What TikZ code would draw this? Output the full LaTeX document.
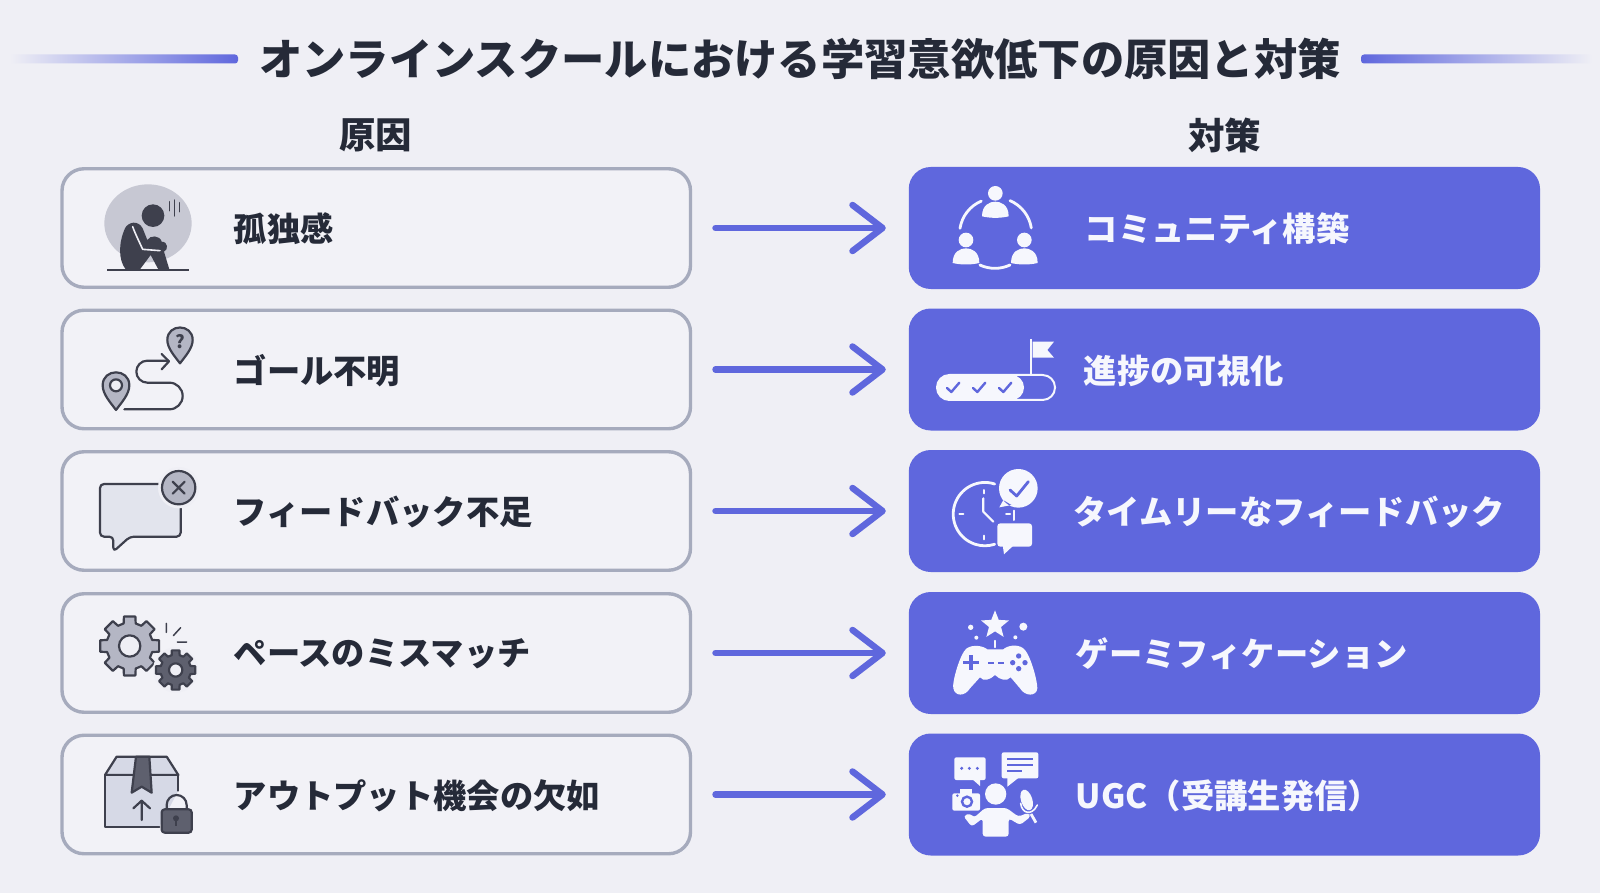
\documentclass[tikz,border=0pt]{standalone}
\usepackage{fontspec}
\setmainfont{Noto Sans CJK JP}
\usetikzlibrary{arrows.meta, positioning}
\definecolor{pagebg}{HTML}{EFEFF5}
\definecolor{accent}{HTML}{5F67DD}
\definecolor{inkdark}{HTML}{252A38}
\definecolor{framegray}{HTML}{A6ABBD}
\definecolor{icondark}{HTML}{3E404D}
\definecolor{iconmid}{HTML}{B4B6C4}
\definecolor{icondeep}{HTML}{5E606E}
\definecolor{iconlight}{HTML}{D6D9E6}
\definecolor{iconwhite}{HTML}{F6F7FD}
\tikzset{
	causebox/.style={draw=framegray, line width=3.4pt, fill=pagebg!80!white, rounded corners=22pt, minimum width=628.5pt, minimum height=118.5pt, inner sep=0pt, outer sep=0pt},
	fixbox/.style={fill=accent, rounded corners=22pt, minimum width=631.3pt, minimum height=122pt, inner sep=0pt, outer sep=0pt},
	causetext/.style={font=\fontsize{33.3pt}{36pt}\selectfont\bfseries, text=inkdark, inner sep=0pt},
	fixtext/.style={font=\fontsize{33.3pt}{36pt}\selectfont\bfseries, text=iconwhite, inner sep=0pt},
	headtext/.style={font=\fontsize{36.5pt}{40pt}\selectfont\bfseries, text=inkdark, inner sep=0pt},
	flowarrow/.style={draw=accent, line width=6.5pt, line cap=round, shorten <=25pt, shorten >=23pt, -{Straight Barb[length=30pt,width=46pt,line width=6.5pt,round]}},
	iconline/.style={draw=icondark, line width=2.2pt, line join=round, line cap=round},
	whiteline/.style={draw=iconwhite, line width=2.8pt, line join=round, line cap=round},
	accline/.style={draw=accent, line width=2.4pt, line join=round, line cap=round},
	icon/.style={x=.33333pt, y=-.33333pt}
}
\newcommand{\gearicon}[5]{
	\begin{scope}[shift={(#1,#2)}]
		\draw[iconline, fill=#5] (11:#3) \foreach \a in {45,90,...,360}{ -- (\a-45+15:#4) -- (\a-15:#4) -- (\a-11:#3) -- (\a+11:#3)} -- cycle;
	\end{scope}
}
\newcommand{\userblob}[2]{
	\fill[iconwhite] (#1-40,#2+24) .. controls (#1-40,#2-12) and (#1-15,#2-20) .. (#1,#2-20) .. controls (#1+15,#2-20) and (#1+40,#2-12) .. (#1+40,#2+24) .. controls (#1+15,#2+30) and (#1-15,#2+30) .. (#1-40,#2+24) -- cycle;
}
\begin{document}
\begin{tikzpicture}[x=1pt, y=-1pt]
	\useasboundingbox (0,0) rectangle (1600,893);
	\fill[pagebg] (0,0) rectangle (1600,893);
	% title row
	\node[font=\fontsize{43.3pt}{48pt}\selectfont\bfseries, text=inkdark, inner sep=0pt] (title) at (800,59) {オンラインスクールにおける学習意欲低下の原因と対策};
	\shade[left color=pagebg, right color=accent, rounded corners=3pt] (10,54.5) rectangle (238,63.5);
	\shade[left color=accent, right color=pagebg, rounded corners=3pt] (1361,54.5) rectangle (1592,63.5);
	\node[headtext] (causehead) at (375.5,135) {原因};
	\node[headtext] (fixhead) at (1224.5,135) {対策};
	% rows
	\foreach \y/\id/\name in {
		228/c1/孤独感,
		369.5/c2/ゴール不明,
		511/c3/フィードバック不足,
		653/c4/ペースのミスマッチ,
		794.5/c5/アウトプット機会の欠如
	}{
		\node[causebox] (\id) at (376.25,\y) {};
		\node[causetext, right=171.5pt of \id.west, yshift=-1pt] (\id text) {\name};
	}
	\foreach \y/\id/\off/\name in {
		228/s1/176/コミュニティ構築,
		369.5/s2/175/進捗の可視化,
		511/s3/164.5/タイムリーなフィードバック,
		653/s4/167/ゲーミフィケーション,
		794.5/s5/167/UGC（受講生発信）
	}{
		\node[fixbox] (\id) at (1224.4,\y) {};
		\node[fixtext, right=\off pt of \id.west, yshift=-1pt] (\id text) {\name};
	}
	\foreach \n in {1,...,5}
		{\draw[flowarrow] (c\n.east) -- (s\n.west);}
	% cause icons, top two
	\begin{scope}[shift={(60,160)}, icon]
		\fill[iconmid!75!white] (264,190) ellipse [x radius=131, y radius=117];
		\fill[icondark] (279,167) circle [radius=34];
		\fill[icondark] (197,328) .. controls (175,300) and (175,250) .. (195,205) .. controls (205,185) and (235,180) .. (248,205) -- (262,240) .. controls (270,225) and (300,225) .. (305,245) .. controls (325,245) and (325,270) .. (312,275) -- (328,328) -- (295,328) -- (272,285) -- (240,328) -- cycle;
		\draw[pagebg, line width=1.6pt, line cap=round, line join=round] (218,200) .. controls (225,220) and (240,250) .. (248,268) -- (300,272);
		\draw[icondark, line width=1.4pt, line cap=round] (329,125) -- (329,152) (344,120) -- (344,168) (358,128) -- (358,155);
		\draw[iconline, line width=2.2pt, line cap=butt] (141,330) -- (387,330);
		% route with two pins
		\draw[iconline, fill=iconmid] (360,610) .. controls (345,590) and (322,565) .. (322,540) .. controls (322,490) and (398,490) .. (398,540) .. controls (398,565) and (375,590) .. (360,610) -- cycle;
		\node[font=\fontsize{18pt}{20pt}\selectfont\bfseries, text=icondark, inner sep=0pt] (pinmark) at (360,546) {?};
		\draw[iconline, fill=iconmid] (168,750) .. controls (152,728) and (128,703) .. (128,676) .. controls (128,624) and (208,624) .. (208,676) .. controls (208,703) and (184,728) .. (168,750) -- cycle;
		\draw[iconline, fill=pagebg] (168,676) circle [radius=18];
		\draw[iconline] (193,748) -- (328,748) arc [start angle=90, end angle=-90, radius=40] -- (262,668) arc [start angle=90, end angle=270, radius=33] -- (325,602);
		\draw[iconline] (305,582) -- (327,604) -- (305,628);
	\end{scope}
	% cause icons, lower three
	\begin{scope}[shift={(60,440)}, icon]
		\draw[iconline, fill=iconlight!70!white, rounded corners=4pt] (160,335) -- (160,290) -- (120,290) -- (120,132) -- (362,132) -- (362,290) -- (210,290) -- cycle;
		\fill[pagebg] (356,143) circle [radius=62];
		\draw[iconline, fill=iconmid] (356,143) circle [radius=50];
		\draw[iconline] (338,125) -- (374,161) (374,125) -- (338,161);
		% gears
		\gearicon{209}{618}{90}{70}{iconmid}
		\draw[iconline, fill=pagebg] (209,618) circle [radius=32];
		\fill[pagebg] (347,690) circle [radius=68];
		\gearicon{347}{690}{60}{46}{icondeep}
		\draw[iconline, fill=pagebg] (347,690) circle [radius=20];
		\draw[iconline, line width=1.5pt] (319,550) -- (319,577) (362,563) -- (340,587) (352,606) -- (380,606);
		% box and lock
		\draw[iconline, fill=iconlight] (135,1005) -- (170,950) -- (320,950) -- (355,1005) -- cycle;
		\draw[iconline, fill=iconlight] (298,1160) -- (135,1160) -- (135,1005) -- (355,1005) -- (355,1052);
		\draw[iconline, fill=icondeep] (228,950) -- (268,950) -- (275,1058) -- (245,1040) -- (215,1058) -- cycle;
		\draw[iconline] (245,1140) -- (245,1082) (220,1105) -- (245,1082) -- (270,1105);
		\draw[iconline] (320,1108) -- (320,1095) arc [start angle=180, end angle=360, radius=30] -- (380,1108);
		\draw[iconline, fill=icondeep, rounded corners=3pt] (305,1108) rectangle (395,1178);
		\fill[icondark] (348,1135) circle [radius=9];
		\fill[icondark] (344,1135) -- (352,1135) -- (352,1158) -- (344,1158) -- cycle;
	\end{scope}
	% fix icons, top two
	\begin{scope}[shift={(900,160)}, icon]
		\fill[iconwhite] (286,100) circle [radius=22] (198,240) circle [radius=22] (373,240) circle [radius=22];
		\userblob{286}{145}
		\userblob{198}{285}
		\userblob{373}{285}
		\draw[whiteline] (180,205) arc [start angle=189, end angle=247, radius=107];
		\draw[whiteline] (330,122) arc [start angle=-67, end angle=-9, radius=107];
		\draw[whiteline] (330,315) arc [start angle=65, end angle=115, radius=107];
		% progress bar
		\draw[iconwhite, line width=2pt, rounded corners=12.4pt] (111,645) rectangle (465,720);
		\fill[iconwhite, rounded corners=12.4pt] (111,645) rectangle (372,720);
		\foreach \x in {160,238,316}
			{\draw[accline] (\x-19,684) -- (\x-6,696) -- (\x+18,668);}
		\draw[iconwhite, line width=2pt] (393,537) -- (393,645);
		\fill[iconwhite] (398,545) -- (462,545) -- (442,570) -- (462,593) -- (398,593) -- cycle;
	\end{scope}
	% fix icons, lower three
	\begin{scope}[shift={(900,440)}, icon]
		\draw[whiteline] (284,132) arc [start angle=288, end angle=72, radius=95];
		\draw[whiteline, line width=2pt] (253,150) -- (253,160) (178,222) -- (190,222) (253,287) -- (253,298) (318,222) -- (330,222) (343,212) -- (343,240);
		\draw[whiteline, line width=2.2pt] (250,175) -- (250,215) -- (280,245);
		\fill[iconwhite] (355,145) circle [radius=58] (310,180) -- (298,202) -- (335,195) -- cycle;
		\draw[accline, line width=2.8pt] (330,150) -- (350,168) -- (385,125);
		\fill[iconwhite, rounded corners=3pt] (292,250) rectangle (396,320);
		\fill[iconwhite] (308,315) -- (312,343) -- (342,315) -- cycle;
		% controller
		\begin{scope}[shift={(285,555)}]
			\fill[iconwhite] (-90:44) \foreach \a in {-90,-18,54,126,198}{ -- (\a:44) -- (\a+36:19)} -- cycle;
		\end{scope}
		\fill[iconwhite] (212,562) circle [radius=8] (370,560) circle [radius=12] (229,593) circle [radius=6] (346,592) circle [radius=6];
		\draw[whiteline, line width=1.4pt] (285,602) -- (285,622);
		\fill[iconwhite] (200,625) .. controls (180,640) and (155,730) .. (160,745) .. controls (165,770) and (195,770) .. (210,745) -- (240,712) .. controls (250,725) and (270,720) .. (285,705) .. controls (300,720) and (320,725) .. (332,712) -- (360,745) .. controls (375,770) and (410,770) .. (412,745) .. controls (412,720) and (390,640) .. (370,625) .. controls (350,610) and (320,618) .. (310,628) -- (262,628) .. controls (250,618) and (220,612) .. (200,625) -- cycle;
		\draw[accline, line width=3.4pt, line cap=butt] (190,668) -- (236,668) (213,645) -- (213,691);
		\draw[accline, line width=2pt, line cap=butt, dash pattern=on 6pt off 4pt] (265,670) -- (320,670);
		\fill[accent] (356,648) circle [radius=8] (375,668) circle [radius=8] (338,668) circle [radius=8] (356,686) circle [radius=8];
		% speech and camera
		\fill[iconwhite, rounded corners=2pt] (163,952) rectangle (257,1020);
		\fill[iconwhite] (215,1016) -- (240,1038) -- (240,1016) -- cycle;
		\fill[accent] (185,985) circle [radius=5] (208,985) circle [radius=5] (232,985) circle [radius=5];
		\fill[iconwhite, rounded corners=2pt] (305,937) rectangle (415,1015);
		\fill[iconwhite] (322,1010) -- (322,1040) -- (360,1010) -- cycle;
		\draw[accline, line width=1.8pt, line cap=butt] (322,958) -- (398,958) (322,975) -- (398,975) (322,994) -- (367,994);
		\fill[iconwhite, rounded corners=2pt] (157,1060) rectangle (240,1112);
		\fill[iconwhite] (180,1048) rectangle (215,1062);
		\fill[accent] (172,1067) circle [radius=4];
		\draw[accent, line width=2.4pt] (201,1085) circle [radius=15];
		\fill[iconwhite] (287,1062) circle [radius=32];
		\fill[iconwhite, rounded corners=3pt] (190,1128) -- (210,1120) -- (222,1133) -- (255,1104) -- (320,1104) -- (355,1130) -- (385,1118) -- (392,1130) -- (360,1155) -- (326,1135) -- (326,1190) -- (248,1190) -- (248,1135) -- (215,1160) -- cycle;
		\fill[iconwhite, rotate around={18:(380,1080)}] (380,1080) ellipse [x radius=17, y radius=32];
		\draw[whiteline, line width=1.6pt] (362,1090) .. controls (365,1120) and (395,1130) .. (412,1095);
		\draw[whiteline, line width=2.8pt, line cap=butt] (393,1122) -- (408,1148);
	\end{scope}
\end{tikzpicture}
\end{document}
